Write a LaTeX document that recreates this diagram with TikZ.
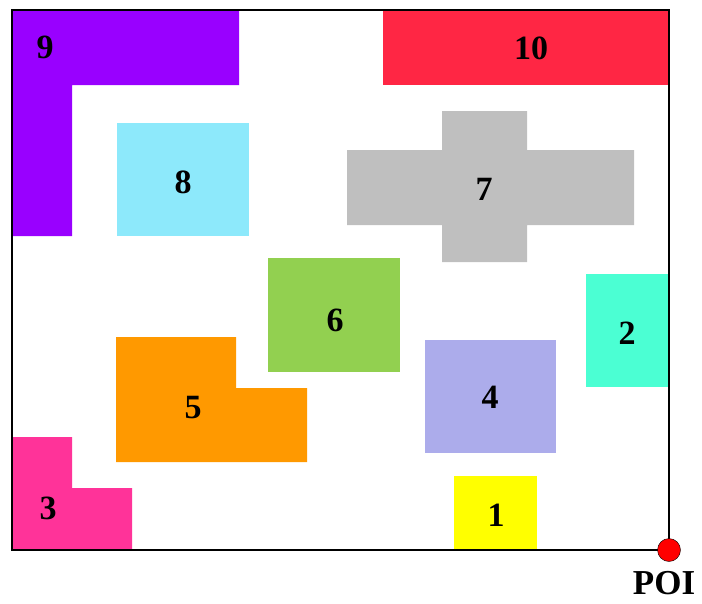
\documentclass[tikz,border=0pt]{standalone}
\usepackage{fontspec}
\setmainfont{Liberation Serif}
\usetikzlibrary{positioning}
\definecolor{cPurple}{HTML}{9900FF}
\definecolor{cSky}{HTML}{8DE9FB}
\definecolor{cRed}{HTML}{FF2644}
\definecolor{cGrey}{HTML}{BFBFBF}
\definecolor{cGreen}{HTML}{92D050}
\definecolor{cOrange}{HTML}{FF9900}
\definecolor{cPink}{HTML}{FF3399}
\definecolor{cLavender}{HTML}{ACACEB}
\definecolor{cAqua}{HTML}{4BFFD3}
\definecolor{cYellow}{HTML}{FFFF00}
\begin{document}
\begin{tikzpicture}[
  x=1pt,y=-1pt,
  num/.style={font=\fontsize{34}{34}\selectfont\bfseries,inner sep=0pt},
  field/.style={draw=black,line width=1.3pt},
  poidot/.style={circle,fill=red,draw=black,thin,minimum size=23pt,inner sep=0pt}
]
\useasboundingbox (0,0) rectangle (702,603);

% obstacles
\fill[cPurple] (12,10) -- (239,10) -- (239,85) -- (72,85) -- (72,236) -- (12,236) -- cycle;
\fill[cSky] (117,123) rectangle (249,236);
\fill[cRed] (383,10) rectangle (669,85);
\fill[cGrey] (347,150) -- (442,150) -- (442,111) -- (527,111) -- (527,150) -- (634,150)
  -- (634,225) -- (527,225) -- (527,262) -- (442,262) -- (442,225) -- (347,225) -- cycle;
\fill[cGreen] (268,258) rectangle (400,372);
\fill[cOrange] (116,337) -- (236,337) -- (236,388) -- (307,388) -- (307,462) -- (116,462) -- cycle;
\fill[cPink] (12,437) -- (72,437) -- (72,488) -- (132,488) -- (132,550) -- (12,550) -- cycle;
\fill[cLavender] (425,340) rectangle (556,453);
\fill[cAqua] (586,274) rectangle (669,387);
\fill[cYellow] (454,476) rectangle (537,550);

\draw[field] (12,10) rectangle (669,550);

\node[num] (n9) at (45,47) {9};
\node[num] (n8) at (183,182) {8};
\node[num] (n10) at (531,48) {10};
\node[num] (n7) at (484,189) {7};
\node[num] (n6) at (335,320) {6};
\node[num] (n5) at (193,408) {5};
\node[num] (n3) at (48,508) {3};
\node[num] (n4) at (490,397) {4};
\node[num] (n2) at (627,333) {2};
\node[num] (n1) at (496,515) {1};

\node[poidot] (poi) at (669,550) {};
\node[font=\fontsize{35}{35}\selectfont\bfseries,inner sep=0pt,below=9pt of poi,xshift=-5pt] (poilabel) {POI};
\end{tikzpicture}
\end{document}
